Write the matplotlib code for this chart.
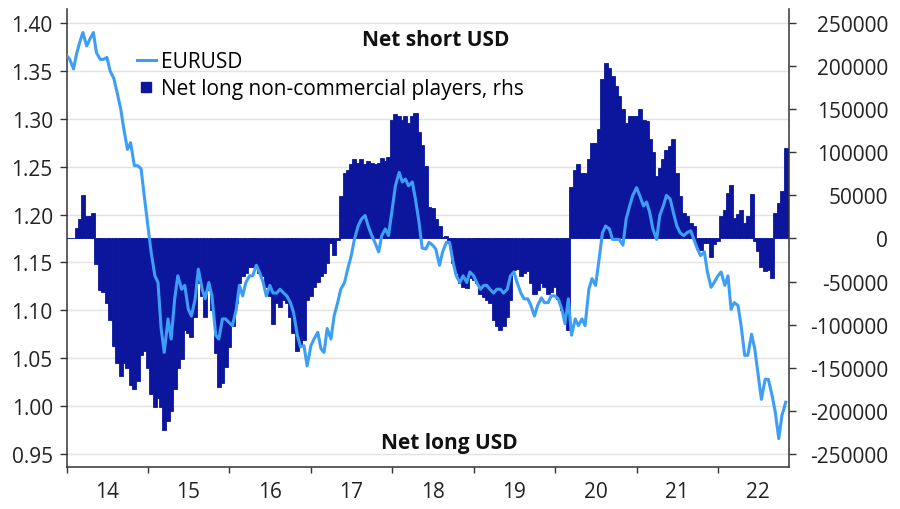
import numpy as np
import pandas as pd
import matplotlib
matplotlib.use('Agg')
import matplotlib.pyplot as plt
import matplotlib.dates as mdates
from matplotlib.lines import Line2D

plt.rcParams['font.family'] = ['Open Sans', 'DejaVu Sans']
plt.rcParams['axes.unicode_minus'] = False

# semi-monthly readings, Jan 2014 .. Nov 2022
start = '2014-01-01'

eurusd = [
    1.366, 1.362, 1.352, 1.368, 1.380, 1.390, 1.376, 1.383, 1.390, 1.369,
    1.362, 1.362, 1.364, 1.350, 1.342, 1.328, 1.310, 1.289, 1.268, 1.275,
    1.251, 1.251, 1.248, 1.220, 1.188, 1.161, 1.136, 1.129, 1.081, 1.056,
    1.091, 1.070, 1.112, 1.136, 1.122, 1.126, 1.101, 1.094, 1.112, 1.143,
    1.122, 1.112, 1.129, 1.115, 1.074, 1.070, 1.091, 1.091, 1.087, 1.084,
    1.101, 1.126, 1.115, 1.129, 1.136, 1.136, 1.147, 1.140, 1.129, 1.115,
    1.126, 1.118, 1.118, 1.122, 1.118, 1.115, 1.108, 1.098, 1.074, 1.062,
    1.063, 1.042, 1.063, 1.070, 1.077, 1.060, 1.056, 1.081, 1.070, 1.094,
    1.108, 1.122, 1.129, 1.143, 1.157, 1.174, 1.188, 1.195, 1.199, 1.188,
    1.178, 1.171, 1.161, 1.178, 1.185, 1.178, 1.206, 1.230, 1.244, 1.234,
    1.237, 1.230, 1.234, 1.216, 1.192, 1.165, 1.164, 1.171, 1.168, 1.164,
    1.147, 1.161, 1.171, 1.171, 1.150, 1.136, 1.129, 1.136, 1.129, 1.140,
    1.136, 1.129, 1.122, 1.126, 1.126, 1.122, 1.118, 1.122, 1.122, 1.118,
    1.122, 1.136, 1.140, 1.129, 1.118, 1.112, 1.112, 1.105, 1.094, 1.105,
    1.113, 1.108, 1.108, 1.115, 1.115, 1.112, 1.101, 1.086, 1.112, 1.074,
    1.091, 1.084, 1.091, 1.084, 1.122, 1.133, 1.126, 1.150, 1.181, 1.188,
    1.185, 1.174, 1.174, 1.174, 1.168, 1.195, 1.209, 1.220, 1.228, 1.220,
    1.209, 1.213, 1.202, 1.185, 1.174, 1.199, 1.209, 1.220, 1.216, 1.202,
    1.188, 1.181, 1.178, 1.181, 1.183, 1.174, 1.164, 1.157, 1.161, 1.140,
    1.124, 1.129, 1.136, 1.140, 1.126, 1.136, 1.101, 1.108, 1.105, 1.084,
    1.053, 1.053, 1.075, 1.060, 1.032, 1.007, 1.028, 1.028, 1.011, 0.994,
    0.966, 0.990, 1.004,
]

net_long = [
    0, 0, 0, 12000, 22000, 50000, 26000, 26000, 30000, -30000,
    -60000, -62000, -75000, -95000, -125000, -145000, -160000, -145000, -150000, -170000,
    -175000, -165000, -135000, -130000, -150000, -180000, -195000, -185000, -195000, -222000,
    -212000, -200000, -175000, -150000, -140000, -106000, -110000, -114000, -91000, -52000,
    -67000, -91000, -60000, -83000, -133000, -172000, -168000, -149000, -126000, -102000,
    -75000, -52000, -44000, -40000, -33000, -33000, -33000, -40000, -44000, -56000,
    -67000, -99000, -75000, -79000, -71000, -75000, -91000, -110000, -130000, -125000,
    -118000, -71000, -67000, -56000, -50000, -44000, -40000, -29000, -5000, -19000,
    -2000, 49000, 76000, 80000, 86000, 92000, 88000, 92000, 86000, 90000,
    88000, 86000, 88000, 93000, 90000, 95000, 138000, 144000, 142000, 138000,
    142000, 134000, 142000, 146000, 123000, 109000, 84000, 37000, 35000, 22000,
    14000, 2000, 3000, -5000, -29000, -40000, -52000, -56000, -58000, -46000,
    -48000, -52000, -64000, -68000, -71000, -75000, -95000, -102000, -106000, -102000,
    -91000, -71000, -37000, -35000, -44000, -40000, -38000, -52000, -64000, -60000,
    -52000, -56000, -64000, -62000, -56000, -70000, -83000, -95000, -106000, 60000,
    80000, 86000, 76000, 76000, 92000, 111000, 111000, 127000, 185000, 204000,
    198000, 189000, 177000, 165000, 150000, 134000, 142000, 142000, 142000, 150000,
    138000, 136000, 115000, 100000, 72000, 82000, 92000, 103000, 107000, 115000,
    76000, 49000, 30000, 26000, 18000, 14000, -9000, -13000, -5000, -5000,
    -21000, -7000, -3500, 26000, 33000, 53000, 62000, 24000, 28000, 33000,
    18000, 26000, 51000, -3500, -15000, -33000, -38000, -37000, -46000, 30000,
    41000, 55000, 105000,
]

year_labels = ['14', '15', '16', '17', '18', '19', '20', '21', '22']
left_ticks = [0.95, 1.00, 1.05, 1.10, 1.15, 1.20, 1.25, 1.30, 1.35, 1.40]
right_ticks = list(range(-250000, 250001, 50000))

dates = pd.date_range(start, periods=len(eurusd), freq='SMS')

navy = '#0b169c'
light = '#3d9ef5'
dark = '#333333'

fig = plt.figure(figsize=(9, 5.1), dpi=100)
ax = fig.add_axes([0.074, 0.0824, 0.8032, 0.898])
ax2 = ax.twinx()
ax3 = ax.twinx()

# bars (right axis), wide enough to touch each other
ax2.bar(dates, net_long, width=18.5, color=navy, edgecolor=navy, linewidth=0.6)
ax2.set_ylim(-265100, 266200)
ax2.set_yticks(right_ticks)
ax2.set_yticklabels([str(v) for v in right_ticks])
for lab in ax2.get_yticklabels():
    lab.set_horizontalalignment('right')
ax2.tick_params(axis='y', length=5, width=1, color=dark, labelsize=15,
                labelcolor='#222222', pad=66)

# EURUSD line on top
ax3.plot(dates, eurusd, color=light, lw=2.2)
ylim = (0.9364, 1.4146)
ax3.set_ylim(ylim)
ax3.axis('off')

ax.set_ylim(ylim)
ax.set_yticks(left_ticks)
ax.set_yticklabels([f'{v:.2f}' for v in left_ticks])
ax.grid(axis='y', color='#e2e2e2', lw=1)
ax.tick_params(axis='y', length=5, width=1, color=dark, labelsize=15,
               labelcolor='#222222', pad=5)

xmin, xmax = pd.Timestamp('2014-01-01'), pd.Timestamp('2022-11-18')
ax.set_xlim(xmin, xmax)
ax.xaxis.set_major_locator(mdates.YearLocator())
ax.xaxis.set_major_formatter(plt.NullFormatter())
mids = pd.to_datetime([f'20{y}-07-01' for y in year_labels])
ax.set_xticks(mids, minor=True)
ax.set_xticklabels(year_labels, minor=True)
ax.tick_params(axis='x', which='major', length=4, width=1, color=dark)
ax.tick_params(axis='x', which='minor', length=0, labelsize=15,
               labelcolor='#222222', pad=10)

for a in (ax, ax2):
    for s in a.spines.values():
        s.set_visible(False)
for s in ('left', 'bottom'):
    ax.spines[s].set_visible(True)
    ax.spines[s].set_color(dark)
    ax.spines[s].set_linewidth(1.1)
ax2.spines['right'].set_visible(True)
ax2.spines['right'].set_color(dark)
ax2.spines['right'].set_linewidth(1.1)

handles = [
    Line2D([], [], color=light, lw=2.2),
    Line2D([], [], color=navy, marker='s', markersize=6.5, linestyle='none'),
]
fig.legend(handles, ['EURUSD', 'Net long non-commercial players, rhs'],
           loc='upper left', bbox_to_anchor=(0.152, 0.898), frameon=False,
           fontsize=15, handlelength=0.9, handletextpad=0.25,
           labelspacing=0.3, borderpad=0, borderaxespad=0)

fig.text(436 / 900, 1 - 41 / 510, 'Net short USD', ha='center', va='center',
         fontsize=15, fontweight='bold', color='#111111')
fig.text(449 / 900, 1 - 444 / 510, 'Net long USD', ha='center', va='center',
         fontsize=15, fontweight='bold', color='#111111')

fig.savefig('out.png', dpi=100)
